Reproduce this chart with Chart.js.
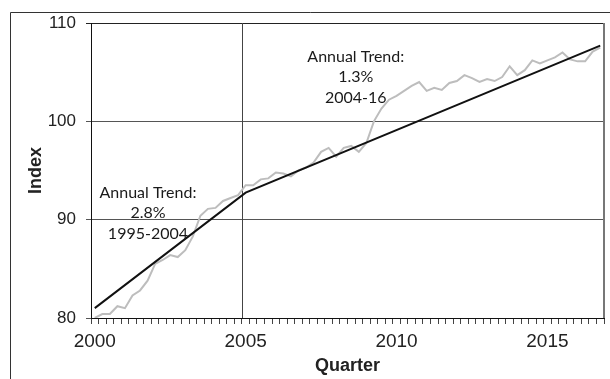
<!DOCTYPE html>
<html>
<head>
<meta charset="utf-8">
<script src="https://cdn.jsdelivr.net/npm/chart.js@4.4.1/dist/chart.umd.min.js"></script>
<style>
  html, body { margin: 0; padding: 0; background: #fff; }
  #wrap { width: 610px; height: 379px; }
</style>
</head>
<body>
<div id="wrap"><canvas id="indexChart"></canvas></div>
<script>
const years = [2000, 2001, 2002, 2003, 2004, 2005, 2006, 2007, 2008, 2009, 2010, 2011, 2012, 2013, 2014, 2015, 2016];
const quarterNames = ['Q1', 'Q2', 'Q3', 'Q4'];
const yearTicks = ['2000', '2005', '2010', '2015'];

// quarterly index, 2000 Q1 .. 2016 Q4
const indexValues = [
  80.0, 80.4, 80.4, 81.2, 81.0, 82.3, 82.8, 83.8,
  85.5, 85.9, 86.4, 86.2, 86.9, 88.3, 90.4, 91.1,
  91.2, 91.9, 92.2, 92.5, 93.5, 93.5, 94.1, 94.2,
  94.8, 94.7, 94.4, 95.0, 95.3, 95.8, 96.9, 97.3,
  96.4, 97.3, 97.5, 96.9, 97.8, 100.0, 101.3, 102.2,
  102.6, 103.1, 103.6, 104.0, 103.1, 103.4, 103.2, 103.9,
  104.1, 104.7, 104.4, 104.0, 104.3, 104.1, 104.5, 105.6,
  104.7, 105.2, 106.2, 105.9, 106.2, 106.5, 107.0, 106.3,
  106.1, 106.1, 107.1, 107.5
];

const trendQuarters = ['2000 Q1', '2005 Q1', '2016 Q4'];
const trendValues = [81.0, 92.75, 107.7];

const trendNotes = [
  ['Annual Trend:', '2.8%', '1995-2004'],
  ['Annual Trend:', '1.3%', '2004-16']
];

const quarters = [];
years.forEach(y => quarterNames.forEach(q => quarters.push(y + ' ' + q)));

const trendData = trendQuarters.map((q, i) => ({ x: q, y: trendValues[i] }));

const framePlugin = {
  id: 'frame',
  beforeDatasetsDraw(chart) {
    const { ctx, chartArea, scales } = chart;
    const x = scales.x;
    // 2005 divider, on the tick between 2004 Q4 and 2005 Q1
    const i = quarters.indexOf('2005 Q1');
    const px = Math.round((x.getPixelForValue(i - 1) + x.getPixelForValue(i)) / 2) + 0.5;
    ctx.save();
    ctx.strokeStyle = '#444';
    ctx.lineWidth = 1;
    ctx.beginPath();
    ctx.moveTo(px, chartArea.top);
    ctx.lineTo(px, chartArea.bottom);
    ctx.stroke();
    ctx.restore();
  },
  afterDraw(chart) {
    const { ctx, chartArea, scales } = chart;
    ctx.save();
    // outer frame
    ctx.strokeStyle = '#333';
    ctx.lineWidth = 1;
    ctx.beginPath();
    ctx.moveTo(10.5, chart.height);
    ctx.lineTo(10.5, 12.5);
    ctx.lineTo(chart.width, 12.5);
    ctx.stroke();
    // right edge of plot
    ctx.strokeStyle = '#777';
    ctx.lineWidth = 2;
    ctx.beginPath();
    ctx.moveTo(chartArea.right, chartArea.top);
    ctx.lineTo(chartArea.right, chartArea.bottom);
    ctx.stroke();

    // trend notes
    ctx.fillStyle = '#1a1a1a';
    ctx.font = '16px Lato';
    ctx.textAlign = 'center';
    ctx.textBaseline = 'middle';
    const anchors = [[7.05, 92.75], [34.6, 106.6]];
    trendNotes.forEach((lines, n) => {
      const cx = scales.x.getPixelForValue(anchors[n][0]);
      const cy = scales.y.getPixelForValue(anchors[n][1]);
      lines.forEach((t, k) => ctx.fillText(t, cx, cy + k * 20.5));
    });
    ctx.restore();
  }
};

new Chart(document.getElementById('indexChart').getContext('2d'), {
  type: 'line',
  data: {
    labels: quarters,
    datasets: [
      {
        label: 'Trend',
        data: trendData,
        borderColor: '#111',
        borderWidth: 2,
        pointRadius: 0,
        tension: 0,
      },
      {
        label: 'Index',
        data: indexValues,
        borderColor: '#bdbdbd',
        borderWidth: 2,
        pointRadius: 0,
        tension: 0,
      }
    ]
  },
  options: {
    responsive: true,
    maintainAspectRatio: false,
    animation: false,
    layout: { padding: { left: 0, top: 23, right: 6, bottom: 0 } },
    plugins: {
      legend: { display: false },
      tooltip: { enabled: false },
    },
    scales: {
      x: {
        type: 'category',
        offset: true,
        afterFit: (s) => { s.height = 61; },
        grid: {
          offset: true,
          drawOnChartArea: false,
          drawTicks: true,
          tickLength: 6,
          color: '#444',
        },
        border: { display: true, color: '#111', width: 1 },
        ticks: {
          autoSkip: false,
          maxRotation: 0,
          padding: 6,
          color: '#222',
          font: { family: 'Liberation Sans', size: 19 },
          callback: function (value) {
            const label = this.getLabelForValue(value);
            const yr = label.slice(0, 4);
            return label.endsWith('Q1') && yearTicks.includes(yr) ? yr : '';
          }
        },
        title: {
          display: true,
          text: 'Quarter',
          color: '#222',
          font: { family: 'Liberation Sans', size: 18, weight: 'bold' },
          padding: { top: 0, bottom: 2 },
        },
      },
      y: {
        min: 80,
        max: 110,
        afterFit: (s) => { s.width = 91; },
        grid: {
          color: (c) => (c.tick && c.tick.value === 110 ? '#222' : '#555'),
          drawTicks: true,
          tickLength: 5,
        },
        border: { display: true, color: '#111', width: 1 },
        ticks: {
          stepSize: 10,
          padding: 10,
          color: '#222',
          font: { family: 'Liberation Sans', size: 17 },
        },
        title: {
          display: true,
          text: 'Index',
          color: '#222',
          font: { family: 'Liberation Sans', size: 18, weight: 'bold' },
          padding: { top: 25, bottom: 0 },
        },
      },
    },
  },
  plugins: [framePlugin],
});
</script>
</body>
</html>
